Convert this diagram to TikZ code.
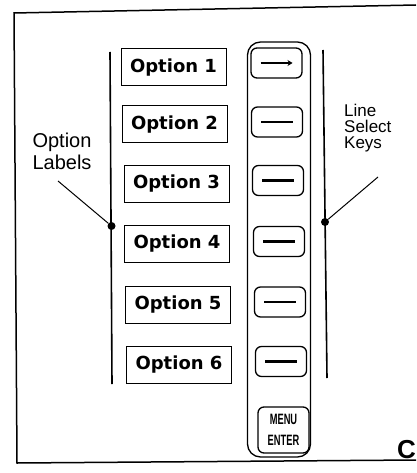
\documentclass[tikz,border=0pt]{standalone}
\usepackage{fontspec}
\setmainfont{Liberation Sans}
\newfontfamily\boxfont{DejaVu Sans}
\usepackage{tikz}
\usetikzlibrary{arrows.meta}

\begin{document}
\begin{tikzpicture}[x=1pt,y=-1pt,
    optbox/.style={draw,line width=1pt,minimum width=105pt,minimum height=37pt,inner sep=0pt,
      font=\boxfont\bfseries\fontsize{18}{18}\selectfont},
    keybox/.style={draw,line width=1.3pt,rounded corners=6pt,minimum width=51pt,minimum height=30pt,inner sep=0pt},
    keydash/.style={line width=2.6pt},
    dotmark/.style={circle,fill=black,inner sep=0pt,minimum size=8pt},
    rail/.style={line width=1.6pt},
    callout/.style={align=left,inner sep=0pt}]
    \useasboundingbox (0,0) rectangle (416,473);
    % outer frame (no right edge)
    \draw [line width=1.5pt] (416,5) -- (14,13) -- (17,463) -- (416,460);
    % left rail with option labels
    \coordinate (ltop) at (110,52);
    \coordinate (lbot) at (112,384);
    \draw [rail] (ltop) -- (lbot);
    \node[dotmark] (ldot) at (111.5,226) {};
    \node[optbox] (opt1) at (173.5,67.5) {Option 1};
    \node[optbox] (opt2) at (174.5,124.5) {Option 2};
    \node[optbox] (opt3) at (176.5,183.5) {Option 3};
    \node[optbox] (opt4) at (177,244) {Option 4};
    \node[optbox] (opt5) at (178,304.5) {Option 5};
    \node[optbox] (opt6) at (179,364.5) {Option 6};
    % key column
    \node[draw,line width=1.3pt,rounded corners=13pt,minimum width=63pt,minimum height=415pt,inner sep=0pt] (panel) at (279,249.5) {};
    \node[keybox] (key1) at (276.5,63) {};
    \node[keybox] (key2) at (277,122) {};
    \node[keybox] (key3) at (278,180.5) {};
    \node[keybox] (key4) at (279,241.5) {};
    \node[keybox] (key5) at (280,302) {};
    \node[keybox] (key6) at (281,361.5) {};
    \draw [keydash,-{Stealth[length=5pt,width=6pt]}] ([xshift=-16pt]key1.center) -- ([xshift=16pt]key1.center);
    \draw [keydash] ([xshift=-16pt]key2.center) -- ([xshift=16pt]key2.center);
    \draw [keydash] ([xshift=-16pt]key3.center) -- ([xshift=16pt]key3.center);
    \draw [keydash] ([xshift=-16pt]key4.center) -- ([xshift=16pt]key4.center);
    \draw [keydash] ([xshift=-16pt]key5.center) -- ([xshift=16pt]key5.center);
    \draw [keydash] ([xshift=-16pt]key6.center) -- ([xshift=16pt]key6.center);
    \node[keybox,minimum height=46pt,align=center,font=\bfseries\fontsize{15}{21}\selectfont] (menukey) at (283.5,430)
      {\scalebox{0.62}[1]{MENU}\\\scalebox{0.62}[1]{ENTER}};
    % right rail
    \coordinate (rtop) at (323,50);
    \coordinate (rbot) at (327,378);
    \draw [rail] (rtop) -- (rbot);
    \node[dotmark] (rdot) at (325,222) {};
    % callouts
    \node[callout,align=center,font=\fontsize{20}{22}\selectfont] (optlab) at (62,151) {Option\\Labels};
    \coordinate (optlabtip) at (58,181);
    \draw [line width=1pt] (optlabtip) -- (ldot);
    \node[callout,anchor=west,font=\fontsize{17}{16}\selectfont] (keylab) at (344,128) {Line\\Select\\Keys};
    \coordinate (keylabtip) at (378,177);
    \draw [line width=1pt] (keylabtip) -- (rdot);
    \node[anchor=base west,inner sep=0pt,font=\bfseries\fontsize{26}{26}\selectfont] (cmark) at (397,458) {C};
\end{tikzpicture}
\end{document}
